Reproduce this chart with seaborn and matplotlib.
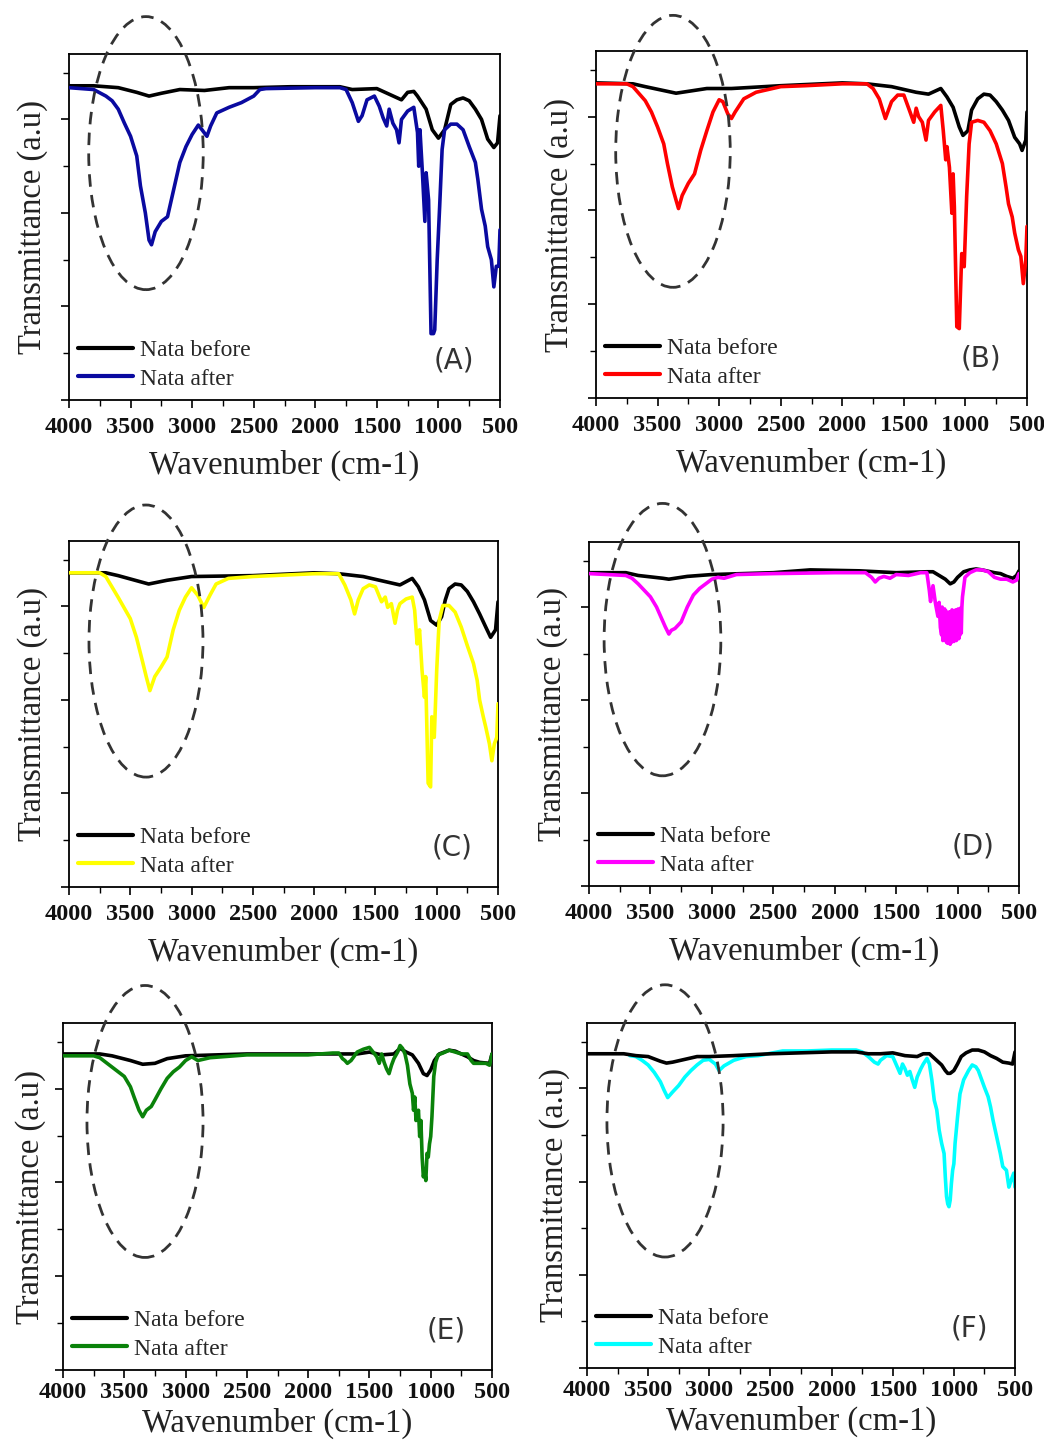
import matplotlib
matplotlib.use("Agg")
import matplotlib.pyplot as plt
from matplotlib.patches import Ellipse
from matplotlib.lines import Line2D
from matplotlib.ticker import MultipleLocator
import pandas as pd
import seaborn as sns

# ---------------- FTIR spectra (wavenumber in cm-1, transmittance in a.u.) ----------------
wn_a_before = [4000, 3800, 3600, 3450, 3350, 3250, 3100, 2900, 2700, 2500, 2200, 1800, 1700, 1500, 1400,
               1300, 1250, 1200, 1170, 1150, 1100, 1050, 1000, 950, 900, 850, 800, 750, 700, 650, 600,
               550, 520, 500]
t_a_before = [3.36, 3.36, 3.34, 3.29, 3.25, 3.28, 3.32, 3.31, 3.34, 3.34, 3.35, 3.35, 3.32, 3.33, 3.27,
              3.21, 3.29, 3.30, 3.25, 3.21, 3.11, 2.89, 2.80, 2.89, 3.16, 3.21, 3.23, 3.20, 3.11, 3.00, 2.79,
              2.70, 2.75, 3.04]
wn_a_after = [4000, 3800, 3700, 3650, 3600, 3550, 3500, 3450, 3420, 3380, 3350, 3330, 3300, 3250, 3200,
              3150, 3100, 3050, 3000, 2950, 2920, 2880, 2850, 2800, 2700, 2600, 2500, 2450, 2400, 2000,
              1800, 1750, 1700, 1650, 1620, 1580, 1520, 1480, 1450, 1420, 1400, 1370, 1340, 1320, 1300,
              1250, 1200, 1170, 1160, 1150, 1130, 1110, 1100, 1080, 1060, 1040, 1030, 1010, 990, 970,
              950, 900, 850, 800, 750, 700, 680, 650, 620, 600, 570, 550, 530, 510, 500]
t_a_after = [3.34, 3.32, 3.25, 3.20, 3.11, 2.96, 2.82, 2.61, 2.29, 2.00, 1.71, 1.66, 1.80, 1.91, 1.96,
             2.25, 2.54, 2.71, 2.84, 2.94, 2.89, 2.82, 2.93, 3.07, 3.13, 3.18, 3.25, 3.32, 3.33, 3.34,
             3.34, 3.32, 3.18, 2.98, 3.04, 3.21, 3.25, 3.14, 3.02, 2.93, 3.11, 2.96, 2.89, 2.75, 3.00,
             3.09, 3.13, 2.86, 2.50, 2.89, 2.43, 1.91, 2.43, 2.14, 0.71, 0.71, 0.75, 1.50, 2.07, 2.68,
             2.89, 2.95, 2.95, 2.89, 2.71, 2.54, 2.36, 2.04, 1.86, 1.64, 1.50, 1.21, 1.43, 1.43, 1.82]

wn_b_before = [4000, 3700, 3600, 3350, 3100, 2900, 2500, 2000, 1800, 1600, 1400, 1300, 1200, 1150, 1100,
               1050, 1020, 980, 950, 900, 850, 800, 750, 700, 650, 600, 560, 540, 510, 500]
t_b_before = [3.36, 3.35, 3.32, 3.25, 3.30, 3.30, 3.33, 3.36, 3.35, 3.32, 3.26, 3.24, 3.30, 3.21, 3.10,
              2.89, 2.80, 2.85, 3.07, 3.19, 3.24, 3.23, 3.16, 3.07, 2.96, 2.78, 2.71, 2.64, 2.75, 3.05]
wn_b_after = [4000, 3750, 3700, 3600, 3550, 3500, 3450, 3420, 3380, 3350, 3330, 3300, 3250, 3200, 3150,
              3100, 3050, 3000, 2970, 2930, 2900, 2870, 2800, 2700, 2500, 2300, 2000, 1800, 1750, 1700,
              1650, 1600, 1550, 1500, 1450, 1420, 1400, 1380, 1350, 1320, 1300, 1250, 1200, 1180, 1160,
              1150, 1130, 1110, 1100, 1090, 1070, 1050, 1030, 1010, 990, 970, 950, 900, 850, 800, 750,
              700, 670, 650, 620, 600, 570, 550, 530, 510, 500]
t_b_after = [3.35, 3.35, 3.32, 3.17, 3.05, 2.89, 2.71, 2.50, 2.25, 2.11, 2.02, 2.16, 2.29, 2.39, 2.64,
             2.85, 3.05, 3.18, 3.16, 3.03, 2.98, 3.05, 3.19, 3.26, 3.32, 3.33, 3.35, 3.35, 3.30, 3.19,
             2.98, 3.16, 3.23, 3.23, 3.05, 2.94, 3.09, 3.00, 2.94, 2.75, 2.96, 3.05, 3.12, 2.85, 2.54,
             2.68, 2.46, 1.97, 2.39, 2.04, 0.76, 0.74, 1.54, 1.40, 2.15, 2.71, 2.94, 2.96, 2.94, 2.85, 2.71,
             2.50, 2.25, 2.07, 1.93, 1.76, 1.58, 1.51, 1.22, 1.47, 1.83]

wn_c_before = [4000, 3700, 3600, 3350, 3200, 3000, 2500, 2000, 1800, 1600, 1400, 1300, 1200, 1150, 1100,
               1050, 1000, 960, 930, 900, 850, 800, 750, 700, 650, 600, 560, 520, 500]
t_c_before = [3.36, 3.36, 3.33, 3.24, 3.28, 3.32, 3.33, 3.36, 3.35, 3.32, 3.26, 3.23, 3.30, 3.21, 3.07,
              2.85, 2.80, 2.89, 3.07, 3.19, 3.24, 3.23, 3.16, 3.05, 2.92, 2.78, 2.67, 2.75, 3.05]
wn_c_after = [4000, 3750, 3700, 3600, 3500, 3450, 3400, 3370, 3340, 3300, 3250, 3200, 3150, 3100, 3050,
              3000, 2950, 2900, 2850, 2800, 2700, 2500, 2000, 1800, 1750, 1700, 1670, 1640, 1600, 1550,
              1500, 1450, 1420, 1400, 1370, 1340, 1320, 1300, 1250, 1200, 1180, 1160, 1140, 1120, 1100,
              1090, 1080, 1070, 1050, 1040, 1020, 1000, 980, 950, 900, 850, 800, 750, 700, 670, 650,
              620, 600, 570, 550, 530, 510, 500]
t_c_after = [3.36, 3.36, 3.32, 3.10, 2.87, 2.67, 2.41, 2.25, 2.10, 2.25, 2.35, 2.46, 2.75, 2.96, 3.10,
             3.20, 3.12, 2.99, 3.12, 3.24, 3.30, 3.32, 3.35, 3.35, 3.23, 3.07, 2.92, 3.07, 3.19, 3.23,
             3.21, 3.05, 3.10, 2.99, 3.03, 2.82, 2.96, 3.03, 3.08, 3.10, 2.96, 2.60, 2.75, 2.32, 2.03,
             2.25, 1.68, 1.11, 1.07, 1.82, 1.60, 2.32, 2.85, 3.01, 3.01, 2.94, 2.78, 2.58, 2.39, 2.21, 2.00,
             1.82, 1.71, 1.53, 1.35, 1.53, 1.60, 1.96]

wn_d_before = [4000, 3700, 3600, 3400, 3350, 3300, 3200, 3000, 2500, 2200, 1800, 1500, 1250, 1200, 1150,
               1100, 1060, 1030, 1000, 950, 900, 850, 800, 700, 650, 600, 550, 520, 500]
t_d_before = [3.37, 3.37, 3.34, 3.31, 3.30, 3.31, 3.33, 3.35, 3.37, 3.40, 3.39, 3.37, 3.38, 3.38, 3.34,
              3.30, 3.25, 3.27, 3.32, 3.38, 3.40, 3.41, 3.40, 3.37, 3.36, 3.33, 3.31, 3.34, 3.39]
wn_d_after = [4000, 3700, 3650, 3600, 3550, 3500, 3450, 3420, 3380, 3350, 3330, 3300, 3250, 3200, 3150,
              3100, 3050, 3000, 2950, 2900, 2800, 2500, 2000, 1750, 1700, 1670, 1640, 1600, 1550, 1500,
              1400, 1300, 1250, 1230, 1220, 1200, 1180, 1160, 1150, 1140, 1130, 1125, 1120, 1115, 1110,
              1105, 1100, 1095, 1090, 1085, 1080, 1075, 1070, 1065, 1060, 1055, 1050, 1045, 1040, 1035,
              1030, 1025, 1020, 1015, 1010, 1005, 1000, 995, 990, 985, 980, 975, 970, 965, 960, 940,
              900, 850, 800, 750, 700, 650, 600, 550, 520, 500]
t_d_after = [3.36, 3.34, 3.31, 3.25, 3.18, 3.11, 3.00, 2.91, 2.79, 2.71, 2.75, 2.77, 2.84, 3.00, 3.13,
             3.20, 3.25, 3.30, 3.32, 3.31, 3.35, 3.36, 3.37, 3.37, 3.32, 3.27, 3.31, 3.33, 3.31, 3.35,
             3.34, 3.37, 3.37, 3.18, 3.06, 3.23, 3.04, 2.90, 3.05, 2.78, 2.70, 3.00, 2.64, 2.95, 2.68,
             2.98, 2.65, 2.96, 2.62, 2.93, 2.61, 2.92, 2.64, 2.95, 2.60, 2.94, 2.62, 2.97, 2.64, 2.96,
             2.63, 2.94, 2.66, 2.97, 2.64, 2.95, 2.68, 2.98, 2.66, 2.96, 2.70, 2.99, 2.72, 3.00, 3.11, 3.32,
             3.37, 3.40, 3.40, 3.38, 3.32, 3.30, 3.30, 3.27, 3.29, 3.36]

wn_e_before = [4000, 3700, 3600, 3450, 3350, 3250, 3150, 3000, 2500, 2000, 1800, 1700, 1600, 1500, 1400,
               1300, 1250, 1200, 1150, 1100, 1060, 1030, 1000, 970, 930, 850, 800, 700, 650, 600, 520, 500]
t_e_before = [3.37, 3.37, 3.35, 3.30, 3.26, 3.27, 3.32, 3.35, 3.37, 3.37, 3.37, 3.37, 3.37, 3.39, 3.36,
              3.37, 3.43, 3.39, 3.36, 3.27, 3.16, 3.14, 3.20, 3.30, 3.37, 3.41, 3.40, 3.34, 3.30, 3.28,
              3.27, 3.37]
wn_e_after = [4000, 3750, 3700, 3650, 3600, 3550, 3500, 3450, 3420, 3380, 3350, 3320, 3280, 3250, 3200,
              3150, 3100, 3050, 3000, 2950, 2900, 2800, 2500, 2000, 1800, 1750, 1720, 1700, 1680, 1650,
              1600, 1550, 1500, 1470, 1440, 1420, 1400, 1380, 1360, 1340, 1320, 1300, 1270, 1250, 1230,
              1210, 1190, 1170, 1150, 1140, 1130, 1120, 1100, 1090, 1080, 1070, 1060, 1050, 1040, 1030,
              1020, 1010, 1000, 990, 975, 960, 940, 900, 850, 800, 750, 700, 670, 650, 600, 550, 520, 500]
t_e_after = [3.35, 3.35, 3.33, 3.28, 3.23, 3.18, 3.13, 3.02, 2.91, 2.77, 2.70, 2.77, 2.81, 2.88, 3.00,
             3.11, 3.18, 3.23, 3.30, 3.34, 3.30, 3.33, 3.36, 3.36, 3.38, 3.38, 3.32, 3.30, 3.27, 3.30,
             3.39, 3.42, 3.44, 3.39, 3.34, 3.27, 3.37, 3.28, 3.21, 3.16, 3.25, 3.32, 3.39, 3.46, 3.43,
             3.37, 3.25, 3.05, 2.95, 2.77, 2.91, 2.66, 2.77, 2.49, 2.66, 2.27, 2.06, 2.13, 2.02, 2.31,
             2.27, 2.41, 2.49, 2.70, 3.13, 3.28, 3.36, 3.38, 3.41, 3.39, 3.37, 3.37, 3.30, 3.27, 3.27,
             3.27, 3.25, 3.37]

wn_f_before = [4000, 3700, 3600, 3500, 3400, 3350, 3300, 3200, 3100, 3000, 2800, 2500, 2000, 1800, 1700,
               1600, 1500, 1400, 1300, 1250, 1200, 1150, 1100, 1070, 1050, 1030, 1000, 970, 940, 900,
               850, 800, 750, 700, 650, 600, 550, 520, 500]
t_f_before = [3.37, 3.37, 3.35, 3.34, 3.29, 3.27, 3.28, 3.31, 3.34, 3.34, 3.35, 3.37, 3.39, 3.39, 3.37,
              3.37, 3.38, 3.35, 3.34, 3.37, 3.37, 3.31, 3.25, 3.19, 3.16, 3.16, 3.19, 3.26, 3.34, 3.38,
              3.41, 3.41, 3.39, 3.35, 3.32, 3.28, 3.27, 3.26, 3.39]
wn_f_after = [3650, 3600, 3550, 3500, 3450, 3400, 3370, 3340, 3300, 3250, 3200, 3150, 3100, 3050, 3000,
              2950, 2920, 2880, 2800, 2700, 2600, 2400, 2200, 2000, 1800, 1750, 1700, 1650, 1620, 1600,
              1550, 1500, 1470, 1440, 1420, 1400, 1380, 1360, 1340, 1320, 1300, 1270, 1250, 1220, 1200,
              1180, 1160, 1140, 1120, 1100, 1080, 1070, 1060, 1050, 1040, 1030, 1020, 1010, 1000, 990,
              970, 950, 920, 880, 850, 820, 800, 750, 720, 700, 680, 650, 620, 600, 570, 550, 530, 510, 500]
t_f_after = [3.35, 3.34, 3.30, 3.25, 3.17, 3.07, 2.98, 2.90, 2.96, 3.03, 3.12, 3.19, 3.25, 3.30, 3.31,
             3.26, 3.19, 3.24, 3.30, 3.34, 3.35, 3.40, 3.40, 3.41, 3.41, 3.39, 3.34, 3.28, 3.26, 3.30,
             3.35, 3.34, 3.25, 3.16, 3.26, 3.21, 3.14, 3.18, 3.09, 3.01, 3.12, 3.21, 3.26, 3.32, 3.26,
             3.09, 2.87, 2.77, 2.55, 2.41, 2.30, 2.05, 1.84, 1.76, 1.73, 1.80, 1.98, 2.12, 2.19, 2.41,
             2.69, 2.94, 3.09, 3.19, 3.25, 3.23, 3.19, 3.01, 2.91, 2.80, 2.66, 2.48, 2.30, 2.16, 2.12,
             1.94, 2.02, 2.09, 1.94]

panel_labels = ["(A)", "(B)", "(C)", "(D)", "(E)", "(F)"]
after_colors = ["#0a0aa0", "#ff0000", "#ffff00", "#ff00ff", "#0a820a", "#00ffff"]
x_ticks = [4000, 3500, 3000, 2500, 2000, 1500, 1000, 500]
series_names = ["Nata before", "Nata after"]

spectra = [
    (wn_a_before, t_a_before, wn_a_after, t_a_after),
    (wn_b_before, t_b_before, wn_b_after, t_b_after),
    (wn_c_before, t_c_before, wn_c_after, t_c_after),
    (wn_d_before, t_d_before, wn_d_after, t_d_after),
    (wn_e_before, t_e_before, wn_e_after, t_e_after),
    (wn_f_before, t_f_before, wn_f_after, t_f_after),
]

# ---------------- layout (pixel boxes: left, top, right, bottom) ----------------
W, H = 1044, 1443
boxes = [(69, 54, 500, 400), (596, 51, 1027, 398),
         (69, 541, 498, 887), (589, 542, 1019, 886),
         (63, 1023, 492, 1370), (587, 1023, 1015, 1368)]
# tick-label pad and x-label pad per panel (bottom row sits tighter to the page edge)
tick_pads = [6, 6, 6, 6, 3, 3]
xlabel_pads = [9, 9, 9, 9, 3, 3]
# highlight ellipse around the O-H band: centre wavenumber, centre y, width, height
ellipses = [(3375, 2.64, 930, 2.92), (3375, 2.63, 930, 2.90),
            (3372, 2.63, 930, 2.91), (3402, 2.65, 950, 2.93),
            (3331, 2.65, 947, 2.90), (3362, 2.65, 950, 2.92)]

sns.set_theme(style="white")
plt.rcParams["font.family"] = ["Liberation Serif", "DejaVu Serif"]

fig = plt.figure(figsize=(W / 100, H / 100), dpi=100)

for i, (wb, tb, wa, ta) in enumerate(spectra):
    l, t, r, b = boxes[i]
    ax = fig.add_axes([l / W, 1 - b / H, (r - l) / W, (b - t) / H])
    df = pd.concat([
        pd.DataFrame({"wn": wb, "T": tb, "sample": series_names[0]}),
        pd.DataFrame({"wn": wa, "T": ta, "sample": series_names[1]}),
    ])
    palette = {series_names[0]: "black", series_names[1]: after_colors[i]}
    order = series_names if i != 5 else series_names[::-1]
    for k, name in enumerate(order):
        sub = df[df["sample"] == name]
        sns.lineplot(data=sub, x="wn", y="T", color=palette[name], lw=2.6,
                     ax=ax, legend=False, zorder=2 + k, estimator=None)

    ax.set_xlim(4000, 500)
    ax.set_ylim(0, 3.7)
    ax.set_xticks(x_ticks)
    ax.set_xticklabels([str(v) for v in x_ticks])
    ax.xaxis.set_minor_locator(MultipleLocator(250))
    ax.set_yticks([0, 1, 2, 3])
    ax.yaxis.set_minor_locator(MultipleLocator(0.5))
    ax.set_yticklabels([])
    ax.tick_params(axis="both", which="major", direction="out", length=6, width=1.2,
                   color="black", bottom=True, left=True, pad=tick_pads[i])
    ax.tick_params(axis="both", which="minor", direction="out", length=4, width=1.0,
                   color="black", bottom=True, left=True)
    for lab in ax.get_xticklabels():
        lab.set_fontweight("bold")
        lab.set_fontsize(17.5)
        lab.set_color("#111111")
    for sp in ax.spines.values():
        sp.set_color("black")
        sp.set_linewidth(1.3)

    ax.set_xlabel("Wavenumber (cm-1)", fontsize=23.5, color="#222222", labelpad=xlabel_pads[i])
    ax.set_ylabel("Transmittance (a.u)", fontsize=23.5, color="#222222", labelpad=3)

    cx, cy, ew, eh = ellipses[i]
    ax.add_patch(Ellipse((cx, cy), ew, eh, fill=False, ec="#333333", lw=2.0,
                         ls=(0, (4.5, 3)), clip_on=False, zorder=5))

    handles = [Line2D([], [], color="black", lw=3),
               Line2D([], [], color=after_colors[i], lw=3)]
    ax.legend(handles, series_names, loc="lower left", bbox_to_anchor=(0.022, 0.03),
              frameon=False, fontsize=17, handlelength=2.3, handletextpad=0.3,
              labelspacing=0.3, borderaxespad=0.0, borderpad=0.0)

    ax.text(0.893, 0.115, panel_labels[i], transform=ax.transAxes, ha="center", va="center",
            fontsize=20, color="#333333", family=["DejaVu Sans"])

fig.savefig("out.png", dpi=100)
